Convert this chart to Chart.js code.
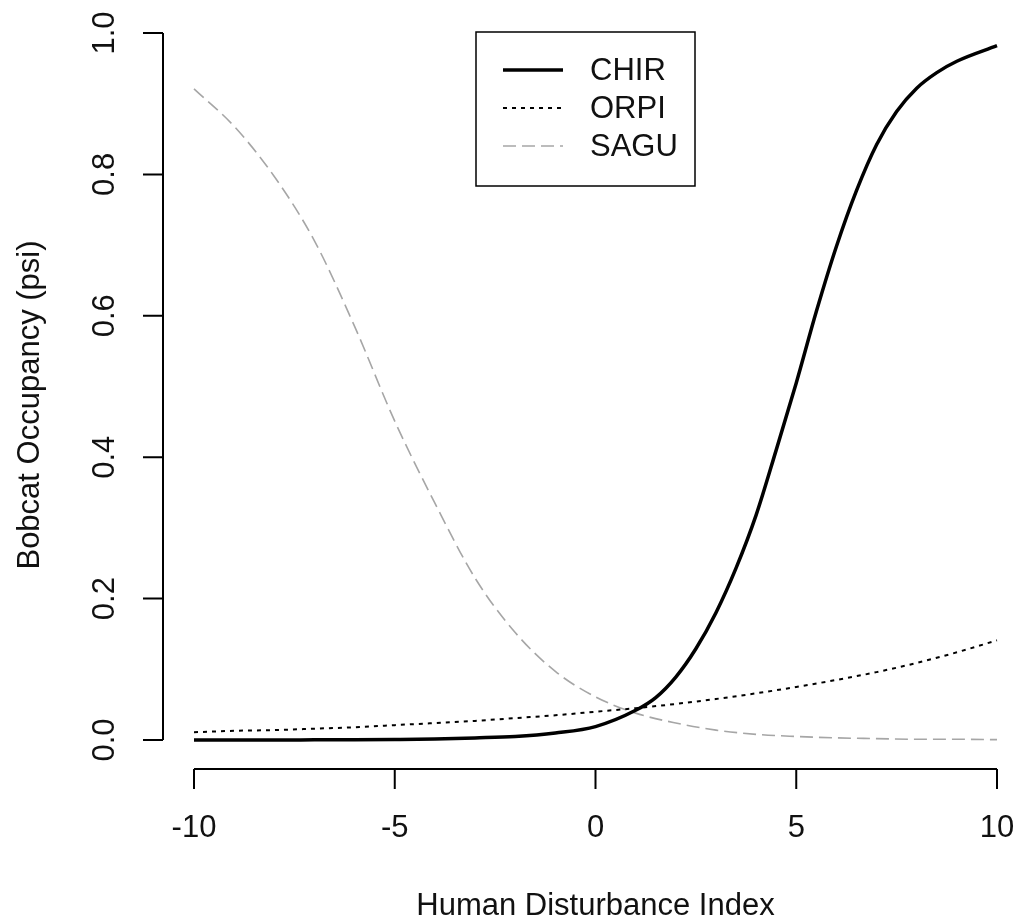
<!DOCTYPE html>
<html>
<head>
<meta charset="utf-8">
<script src="https://cdn.jsdelivr.net/npm/chart.js@4/dist/chart.umd.min.js"></script>
<style>
	body { margin: 0; background: #fff; }
	canvas { display: block; }
</style>
</head>
<body>
<canvas id="myChart" width="1028" height="920"></canvas>
<script>
// values
const disturbance = [-10, -9, -8, -7, -6, -5, -4, -3, -2, -1, 0, 1, 2, 3, 4, 5, 6, 7, 8, 9, 10]
const chirX = [-10, -9, -8, -7, -6, -5, -4, -3, -2, -1, 0, 1, 1.5, 2, 2.5, 3, 3.5, 4, 4.5, 5, 5.5, 6, 6.5, 7, 7.5, 8, 8.5, 9, 10]
const chirPsi = [0, 0, 0, 0.0002, 0.0004, 0.0008, 0.0015, 0.003, 0.005, 0.01, 0.019, 0.042, 0.06, 0.089, 0.129, 0.18, 0.243, 0.318, 0.41, 0.505, 0.606, 0.698, 0.777, 0.842, 0.889, 0.922, 0.944, 0.96, 0.982]
const orpiPsi = [0.011, 0.013, 0.014, 0.016, 0.018, 0.021, 0.024, 0.027, 0.031, 0.035, 0.04, 0.045, 0.051, 0.058, 0.066, 0.075, 0.085, 0.096, 0.109, 0.124, 0.141]
const saguPsi = [0.921, 0.868, 0.797, 0.706, 0.585, 0.451, 0.335, 0.229, 0.152, 0.097, 0.061, 0.038, 0.024, 0.014, 0.008, 0.005, 0.003, 0.002, 0.001, 0.001, 0.0005]

const seriesNames = ["CHIR", "ORPI", "SAGU"]
const xTicks = [-10, -5, 0, 5, 10]
const xTickLabels = ["-10", "-5", "0", "5", "10"]
const yTicks = [0, 0.2, 0.4, 0.6, 0.8, 1.0]
const yTickLabels = ["0.0", "0.2", "0.4", "0.6", "0.8", "1.0"]
const xTitle = "Human Disturbance Index"
const yTitle = "Bobcat Occupancy (psi)"

const FONT = '31px "Liberation Sans", Arial, sans-serif'
const INK = "#111"

function toPoints(xs, ys) {
	return xs.map((x, i) => ({x: x, y: ys[i]}))
}

// R style axes, offset from the plotting region, plus the boxed legend
const rAxes = {
	id: "rAxes",
	afterDraw(chart) {
		const ctx = chart.ctx
		const xs = chart.scales.x
		const ys = chart.scales.y
		const area = chart.chartArea
		const axisX = area.left - 31
		const axisY = area.bottom + 29
		const tick = 20

		ctx.save()
		ctx.strokeStyle = "#000"
		ctx.lineWidth = 2
		ctx.beginPath()
		ctx.moveTo(axisX, ys.getPixelForValue(yTicks[0]))
		ctx.lineTo(axisX, ys.getPixelForValue(yTicks[yTicks.length - 1]))
		yTicks.forEach(v => {
			const py = ys.getPixelForValue(v)
			ctx.moveTo(axisX, py)
			ctx.lineTo(axisX - tick, py)
		})
		ctx.moveTo(xs.getPixelForValue(xTicks[0]), axisY)
		ctx.lineTo(xs.getPixelForValue(xTicks[xTicks.length - 1]), axisY)
		xTicks.forEach(v => {
			const px = xs.getPixelForValue(v)
			ctx.moveTo(px, axisY)
			ctx.lineTo(px, axisY + tick)
		})
		ctx.stroke()

		ctx.fillStyle = INK
		ctx.font = FONT
		ctx.textAlign = "center"
		ctx.textBaseline = "middle"
		xTicks.forEach((v, i) => {
			ctx.fillText(xTickLabels[i], xs.getPixelForValue(v), axisY + 59)
		})
		yTicks.forEach((v, i) => {
			ctx.save()
			ctx.translate(axisX - 58, ys.getPixelForValue(v))
			ctx.rotate(-Math.PI / 2)
			ctx.fillText(yTickLabels[i], 0, 0)
			ctx.restore()
		})
		const midX = (xs.getPixelForValue(xTicks[0]) + xs.getPixelForValue(xTicks[xTicks.length - 1])) / 2
		ctx.fillText(xTitle, midX, axisY + 137)
		ctx.save()
		ctx.translate(30, (area.top + axisY) / 2 + 4)
		ctx.rotate(-Math.PI / 2)
		ctx.fillText(yTitle, 0, 0)
		ctx.restore()

		// legend box
		const box = {x: 476, y: 32, w: 219, h: 154}
		ctx.lineWidth = 1.5
		ctx.strokeRect(box.x, box.y, box.w, box.h)
		ctx.textAlign = "left"
		chart.data.datasets.forEach((ds, i) => {
			const rowY = box.y + 38 + i * 38
			ctx.save()
			ctx.strokeStyle = ds.borderColor
			ctx.lineWidth = ds.borderWidth
			ctx.setLineDash(ds.borderDash || [])
			ctx.beginPath()
			ctx.moveTo(box.x + 27, rowY)
			ctx.lineTo(box.x + 87, rowY)
			ctx.stroke()
			ctx.restore()
			ctx.fillText(ds.label, box.x + 114, rowY + 1)
		})
		ctx.restore()
	}
}

const chart = new Chart("myChart", {
	type: "line",
	data: {
		datasets: [
			{
				label: seriesNames[0],
				data: toPoints(chirX, chirPsi),
				borderColor: "#000",
				borderWidth: 3.5
			},
			{
				label: seriesNames[1],
				data: toPoints(disturbance, orpiPsi),
				borderColor: "#000",
				borderWidth: 2,
				borderDash: [4, 5]
			},
			{
				label: seriesNames[2],
				data: toPoints(disturbance, saguPsi),
				borderColor: "#a6a6a6",
				borderWidth: 1.6,
				borderDash: [13, 6]
			}
		]
	},
	options: {
		responsive: false,
		animation: false,
		devicePixelRatio: 1,
		layout: {padding: {left: 194, right: 31, top: 33, bottom: 180}},
		elements: {
			point: {radius: 0},
			line: {cubicInterpolationMode: "monotone", fill: false}
		},
		datasets: {line: {clip: false}},
		scales: {
			x: {type: "linear", min: -10, max: 10, display: false},
			y: {type: "linear", min: 0, max: 1, display: false}
		},
		plugins: {
			legend: {display: false},
			tooltip: {enabled: false}
		}
	},
	plugins: [rAxes]
})
</script>
</body>
</html>
